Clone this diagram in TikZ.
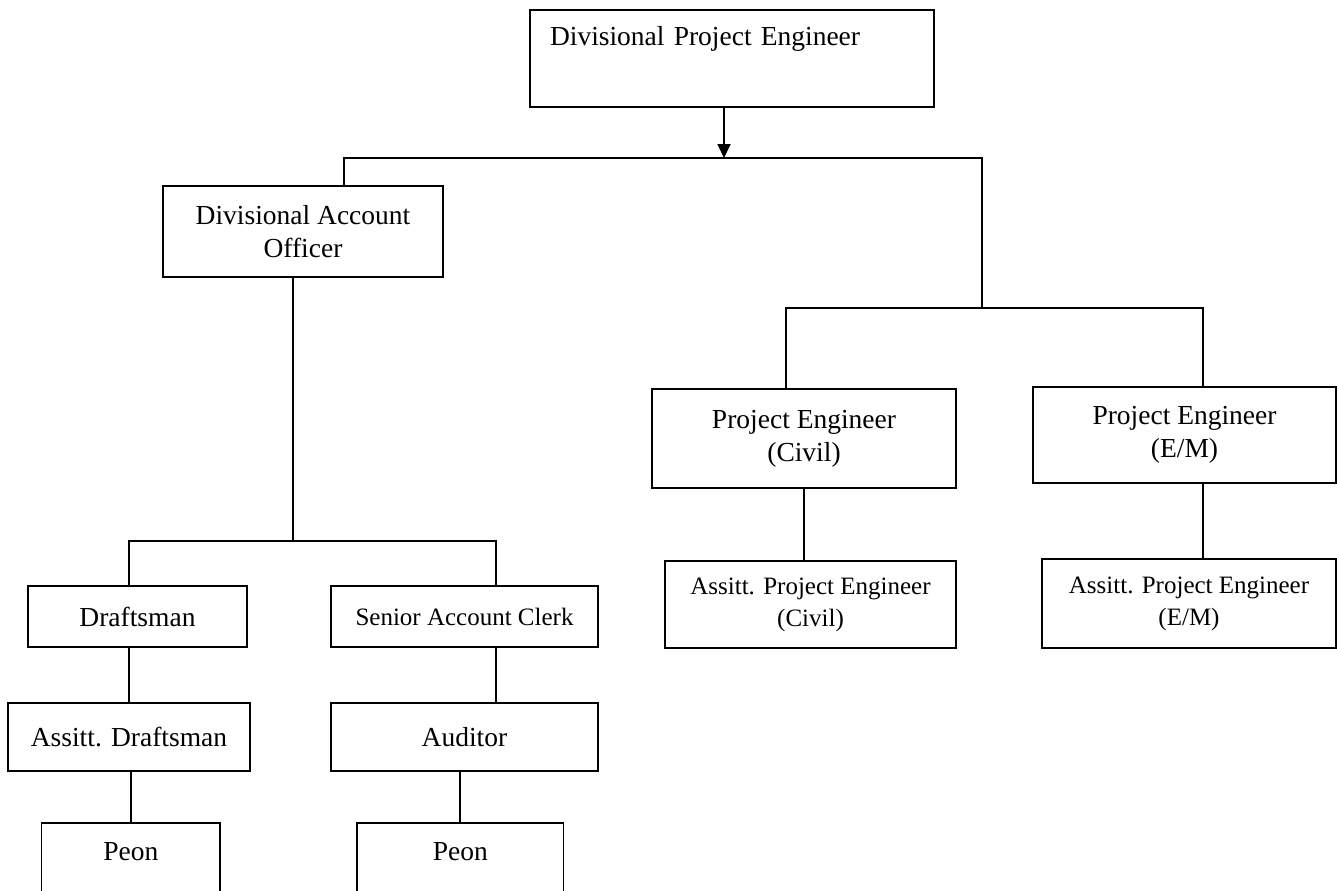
\documentclass[tikz,border=0pt]{standalone}
\usepackage{fontspec}
\setmainfont{Liberation Serif}
\usetikzlibrary{arrows.meta,calc}

\tikzset{
  post/.style={draw, rectangle, align=center, inner sep=0pt,
    font=\fontsize{13.75}{16.5}\selectfont},
  small/.style={font=\fontsize{12.5}{16}\selectfont},
  peon/.style={minimum height=41pt, text height=18.5pt, text depth=22.5pt}
}

\begin{document}
\begin{tikzpicture}[x=0.5pt, y=-0.5pt, line width=0.9pt]
            \useasboundingbox (0,0) rectangle (1337,890);
            \clip (0,0) rectangle (1337,890);
            \node[post, minimum width=202pt, minimum height=48.5pt, text width=182pt, align=left, text height=13.5pt, text depth=27pt] at (732,58.5) (dpe) {Divisional Project Engineer};
            \node[post, minimum width=140pt, minimum height=45.5pt] at (303,231.5) (dao) {Divisional Account\\Officer};
            \node[post, minimum width=152pt, minimum height=49.5pt] at (804,438.5) (pec) {Project Engineer\\(Civil)};
            \node[post, minimum width=151.5pt, minimum height=48pt] at (1184.5,435) (pem) {Project Engineer\\(E/M)};
            \node[post, small, minimum width=145.5pt, minimum height=43.5pt] at (810.5,604.5) (apc) {Assitt. Project Engineer\\(Civil)};
            \node[post, small, minimum width=147pt, minimum height=44.5pt] at (1189,603.5) (apm) {Assitt. Project Engineer\\(E/M)};
            \node[post, minimum width=109.5pt, minimum height=30.5pt] at (137.5,616.5) (drf) {Draftsman};
            \node[post, small, minimum width=133.5pt, minimum height=30.5pt] at (464.5,616.5) (sac) {Senior Account Clerk};
            \node[post, minimum width=121pt, minimum height=34pt] at (129,737) (adr) {Assitt. Draftsman};
            \node[post, minimum width=133.5pt, minimum height=34pt] at (464.5,737) (aud) {Auditor};
            \node[post, peon, minimum width=89.25pt] at (130.75,864) (pn1) {Peon};
            \node[post, peon, minimum width=103.25pt] at (460.25,864) (pn2) {Peon};
            \coordinate (j0) at (724,158);
            \coordinate (rj) at (982,308);
            \coordinate (lj) at (293,541);
            \draw[-{Triangle[width=6.5pt,length=7pt]}] (dpe.south -| j0) -- (j0);
            \draw ([xshift=20.5pt]dao.north) |- (j0) -| (rj)
            ([xshift=-9pt]pec.north) |- (rj) -| ([xshift=9.25pt]pem.north)
            ([xshift=-5pt]dao.south) -- (lj)
            ([xshift=-4.25pt]drf.north) |- (lj) -| ([xshift=15.75pt]sac.north)
            (adr.north) -- (adr.north |- drf.south)
            ([xshift=15.75pt]aud.north) -- ([xshift=15.75pt]sac.south)
            (pn1.north) -- (pn1.north |- adr.south)
            (pn2.north) -- (pn2.north |- aud.south)
            (pec.south) -- (pec.south |- apc.north)
            ([xshift=9.25pt]pem.south) -- ([xshift=9.25pt]pem.south |- apm.north)
            ;
        \end{tikzpicture}
\end{document}
